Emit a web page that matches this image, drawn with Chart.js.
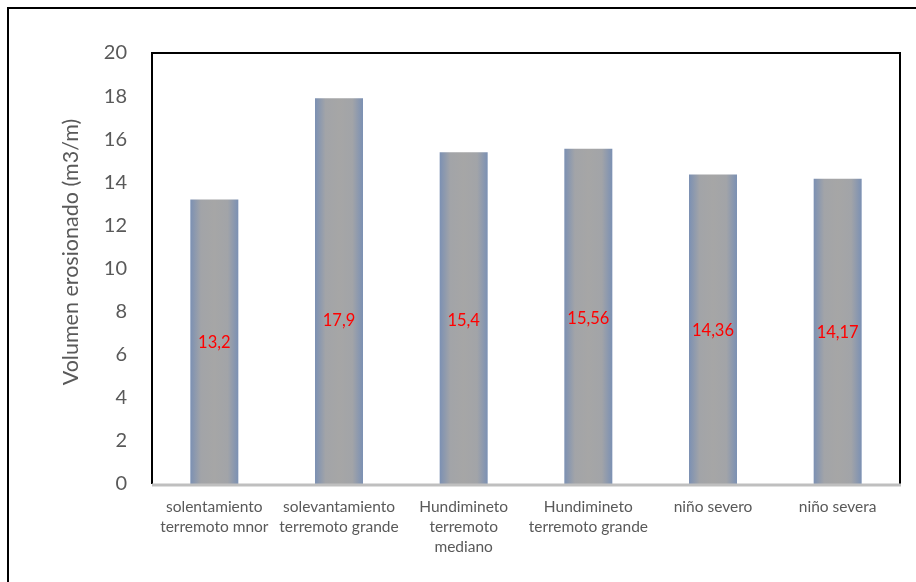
<!DOCTYPE html>
<html lang="es">
<head>
<meta charset="UTF-8">
<title>Volumen erosionado por escenario</title>
<script src="https://cdn.jsdelivr.net/npm/chart.js"></script>
<style>
  html, body { margin: 0; padding: 0; background: #ffffff; }
  #wrap { width: 916px; height: 582px; }
</style>
</head>
<body>
<div id="wrap"><canvas id="erosion" width="916" height="582"></canvas></div>

<script>
// escenarios (eje x) y volumen erosionado en m3/m
const escenarios = [
  ['solentamiento', 'terremoto mnor'],
  ['solevantamiento', 'terremoto grande'],
  ['Hundimineto', 'terremoto', 'mediano'],
  ['Hundimineto', 'terremoto grande'],
  ['niño severo'],
  ['niño severa']
];
const volumen = [13.2, 17.9, 15.4, 15.56, 14.36, 14.17];
const yTicks = [0, 2, 4, 6, 8, 10, 12, 14, 16, 18, 20];
const tituloY = 'Volumen erosionado (m3/m)';
// altura (en m3/m) a la que va cada rotulo dentro de su barra
const alturaRotulo = [6.55, 7.6, 7.6, 7.65, 7.1, 7.0];

const BAR_PCT = 0.385;
const textGray = '#595959';
const fuente = 'Lato, "Open Sans", sans-serif';

// gris al centro, azulado en los bordes
function barFill(ctx) {
  const chart = ctx.chart;
  const area = chart.chartArea;
  if (!area) return '#a5a5a5';
  const cx = chart.scales.x.getPixelForValue(ctx.dataIndex);
  const half = (area.width / escenarios.length) * BAR_PCT / 2;
  const g = chart.ctx.createLinearGradient(cx - half, 0, cx + half, 0);
  g.addColorStop(0, '#7b90b3');
  g.addColorStop(0.22, '#a2a4a8');
  g.addColorStop(0.5, '#a6a6a6');
  g.addColorStop(0.78, '#a2a4a8');
  g.addColorStop(1, '#7b90b3');
  return g;
}

// marco exterior, recuadro del area de trazado y titulo del eje y
const marcos = {
  id: 'marcos',
  afterDatasetsDraw(chart) {
    const c = chart.ctx;
    const a = chart.chartArea;
    c.save();
    c.strokeStyle = '#000000';
    c.lineWidth = 2;
    c.beginPath();
    c.moveTo(8, 582);
    c.lineTo(8, 8);
    c.lineTo(916, 8);
    c.stroke();

    c.beginPath();
    c.moveTo(a.left, a.bottom);
    c.lineTo(a.left, a.top);
    c.lineTo(a.right, a.top);
    c.lineTo(a.right, a.bottom);
    c.stroke();

    c.strokeStyle = '#bfbfbf';
    c.lineWidth = 3;
    c.beginPath();
    c.moveTo(a.left, a.bottom + 1);
    c.lineTo(a.right + 1, a.bottom + 1);
    c.stroke();

    c.translate(71, 252);
    c.rotate(-Math.PI / 2);
    c.fillStyle = textGray;
    c.font = '21.5px ' + fuente;
    c.textAlign = 'center';
    c.textBaseline = 'middle';
    c.fillText(tituloY, 0, 0);
    c.restore();
  }
};

// valores en rojo dentro de cada barra
const etiquetas = {
  id: 'etiquetas',
  afterDatasetsDraw(chart) {
    const c = chart.ctx;
    const meta = chart.getDatasetMeta(0);
    const ys = chart.scales.y;
    c.save();
    c.fillStyle = '#ff0000';
    c.font = '16.5px ' + fuente;
    c.textAlign = 'center';
    c.textBaseline = 'middle';
    meta.data.forEach((bar, i) => {
      const txt = String(volumen[i]).replace('.', ',');
      c.fillText(txt, bar.x, ys.getPixelForValue(alturaRotulo[i]));
    });
    c.restore();
  }
};

new Chart(document.getElementById('erosion'), {
  type: 'bar',
  data: {
    labels: escenarios,
    datasets: [{
      data: volumen,
      backgroundColor: barFill,
      borderWidth: 0,
      categoryPercentage: 1,
      barPercentage: BAR_PCT
    }]
  },
  options: {
    responsive: false,
    animation: false,
    layout: { padding: { top: 53, right: 16, left: 0, bottom: 0 } },
    plugins: {
      legend: { display: false },
      tooltip: { enabled: false }
    },
    scales: {
      x: {
        grid: { display: false },
        border: { display: false },
        ticks: {
          color: textGray,
          padding: 5,
          maxRotation: 0,
          autoSkip: false,
          font: { family: fuente, size: 15.5, lineHeight: 1.3 }
        },
        afterFit(s) { s.height = 98; }
      },
      y: {
        min: 0,
        max: 20,
        grid: { display: false },
        border: { display: false },
        afterBuildTicks(s) { s.ticks = yTicks.map(v => ({ value: v })); },
        ticks: {
          color: textGray,
          padding: 17,
          font: { family: fuente, size: 20 }
        },
        afterFit(s) { s.width = 152; }
      }
    }
  },
  plugins: [marcos, etiquetas]
});
</script>
</body>
</html>
